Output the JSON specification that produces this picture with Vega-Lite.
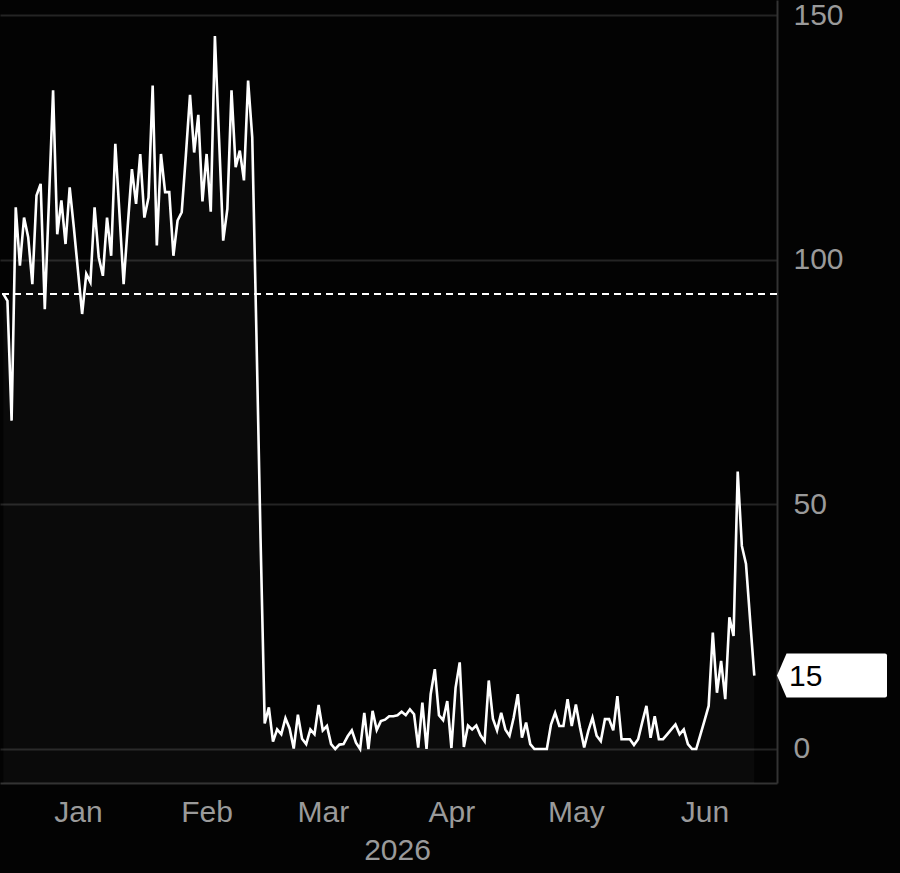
{
  "$schema": "https://vega.github.io/schema/vega-lite/v6.json",
  "autosize": {"type": "none"},
  "padding": {"left": 0, "top": 0, "right": 123, "bottom": 90},
  "width": 777,
  "height": 783,
  "background": "#030303",
  "config": {
    "font": "Liberation Sans",
    "view": {"stroke": null}
  },
  "datasets": {
    "series": [
      {"d":"2025-12-14","v":93.0},{"d":"2025-12-15","v":91.6},{"d":"2025-12-16","v":67.1},{"d":"2025-12-17","v":110.7},{"d":"2025-12-18","v":98.8},{"d":"2025-12-19","v":108.6},{"d":"2025-12-20","v":104.6},{"d":"2025-12-21","v":95.0},{"d":"2025-12-22","v":113.1},{"d":"2025-12-23","v":115.5},{"d":"2025-12-24","v":89.9},{"d":"2025-12-25","v":112.0},{"d":"2025-12-26","v":134.6},{"d":"2025-12-27","v":105.2},{"d":"2025-12-28","v":112.1},{"d":"2025-12-29","v":103.2},{"d":"2025-12-30","v":114.8},{"d":"2025-12-31","v":106.6},
      {"d":"2026-01-01","v":97.7},{"d":"2026-01-02","v":88.9},{"d":"2026-01-03","v":97.1},{"d":"2026-01-04","v":95.4},{"d":"2026-01-05","v":110.7},{"d":"2026-01-06","v":100.5},{"d":"2026-01-07","v":96.7},{"d":"2026-01-08","v":108.6},{"d":"2026-01-09","v":100.8},{"d":"2026-01-10","v":123.7},{"d":"2026-01-11","v":109.4},{"d":"2026-01-12","v":95.0},{"d":"2026-01-13","v":107.0},{"d":"2026-01-14","v":118.5},{"d":"2026-01-15","v":111.4},{"d":"2026-01-16","v":121.6},{"d":"2026-01-17","v":108.6},{"d":"2026-01-18","v":112.7},{"d":"2026-01-19","v":135.6},{"d":"2026-01-20","v":102.9},{"d":"2026-01-21","v":121.6},{"d":"2026-01-22","v":113.8},{"d":"2026-01-23","v":113.8},{"d":"2026-01-24","v":100.8},{"d":"2026-01-25","v":108.0},{"d":"2026-01-26","v":109.7},{"d":"2026-01-27","v":121.3},{"d":"2026-01-28","v":133.7},{"d":"2026-01-29","v":121.9},{"d":"2026-01-30","v":129.6},{"d":"2026-01-31","v":111.9},
      {"d":"2026-02-01","v":121.6},{"d":"2026-02-02","v":109.8},{"d":"2026-02-03","v":145.7},{"d":"2026-02-04","v":124.7},{"d":"2026-02-05","v":103.9},{"d":"2026-02-06","v":110.4},{"d":"2026-02-07","v":134.6},{"d":"2026-02-08","v":118.9},{"d":"2026-02-09","v":122.3},{"d":"2026-02-10","v":116.2},{"d":"2026-02-11","v":136.6},{"d":"2026-02-12","v":125.0},{"d":"2026-02-13","v":85.0},{"d":"2026-02-14","v":43.0},{"d":"2026-02-15","v":5.2},{"d":"2026-02-16","v":8.5},{"d":"2026-02-17","v":1.5},{"d":"2026-02-18","v":4.0},{"d":"2026-02-19","v":3.0},{"d":"2026-02-20","v":6.3},{"d":"2026-02-21","v":4.2},{"d":"2026-02-22","v":0.1},{"d":"2026-02-23","v":7.0},{"d":"2026-02-24","v":2.1},{"d":"2026-02-25","v":1.0},{"d":"2026-02-26","v":4.0},{"d":"2026-02-27","v":3.0},{"d":"2026-02-28","v":9.0},
      {"d":"2026-03-01","v":3.8},{"d":"2026-03-02","v":4.7},{"d":"2026-03-03","v":1.0},{"d":"2026-03-04","v":0},{"d":"2026-03-05","v":0.9},{"d":"2026-03-06","v":1.0},{"d":"2026-03-07","v":2.6},{"d":"2026-03-08","v":3.8},{"d":"2026-03-09","v":1.3},{"d":"2026-03-10","v":0},{"d":"2026-03-11","v":7.4},{"d":"2026-03-12","v":0},{"d":"2026-03-13","v":7.8},{"d":"2026-03-14","v":3.9},{"d":"2026-03-15","v":5.7},{"d":"2026-03-16","v":6.0},{"d":"2026-03-17","v":6.7},{"d":"2026-03-18","v":6.7},{"d":"2026-03-19","v":6.9},{"d":"2026-03-20","v":7.6},{"d":"2026-03-21","v":6.9},{"d":"2026-03-22","v":8.1},{"d":"2026-03-23","v":7.1},{"d":"2026-03-24","v":0.3},{"d":"2026-03-25","v":9.5},{"d":"2026-03-26","v":0},{"d":"2026-03-27","v":11.2},{"d":"2026-03-28","v":16.3},{"d":"2026-03-29","v":6.9},{"d":"2026-03-30","v":5.9},{"d":"2026-03-31","v":9.8},
      {"d":"2026-04-01","v":0.2},{"d":"2026-04-02","v":12.5},{"d":"2026-04-03","v":17.7},{"d":"2026-04-04","v":0.4},{"d":"2026-04-05","v":4.8},{"d":"2026-04-06","v":4.0},{"d":"2026-04-07","v":4.8},{"d":"2026-04-08","v":2.8},{"d":"2026-04-09","v":1.6},{"d":"2026-04-10","v":14.0},{"d":"2026-04-11","v":6.2},{"d":"2026-04-12","v":3.8},{"d":"2026-04-13","v":7.4},{"d":"2026-04-14","v":4.0},{"d":"2026-04-15","v":2.7},{"d":"2026-04-16","v":6.4},{"d":"2026-04-17","v":11.2},{"d":"2026-04-18","v":2.3},{"d":"2026-04-19","v":5.4},{"d":"2026-04-20","v":1.0},{"d":"2026-04-21","v":0},{"d":"2026-04-22","v":0},{"d":"2026-04-23","v":0},{"d":"2026-04-24","v":0},{"d":"2026-04-25","v":5.0},{"d":"2026-04-26","v":7.4},{"d":"2026-04-27","v":4.7},{"d":"2026-04-28","v":4.7},{"d":"2026-04-29","v":10.2},{"d":"2026-04-30","v":4.7},
      {"d":"2026-05-01","v":9.1},{"d":"2026-05-02","v":4.4},{"d":"2026-05-03","v":0.3},{"d":"2026-05-04","v":3.7},{"d":"2026-05-05","v":6.4},{"d":"2026-05-06","v":2.7},{"d":"2026-05-07","v":1.6},{"d":"2026-05-08","v":6.1},{"d":"2026-05-09","v":6.1},{"d":"2026-05-10","v":3.8},{"d":"2026-05-11","v":10.8},{"d":"2026-05-12","v":2.0},{"d":"2026-05-13","v":2.0},{"d":"2026-05-14","v":2.0},{"d":"2026-05-15","v":0.8},{"d":"2026-05-16","v":2.0},{"d":"2026-05-17","v":5.5},{"d":"2026-05-18","v":8.8},{"d":"2026-05-19","v":2.3},{"d":"2026-05-20","v":6.7},{"d":"2026-05-21","v":2.0},{"d":"2026-05-22","v":2.0},{"d":"2026-05-23","v":3.0},{"d":"2026-05-24","v":4.0},{"d":"2026-05-25","v":5.0},{"d":"2026-05-26","v":3.0},{"d":"2026-05-27","v":4.0},{"d":"2026-05-28","v":1.0},{"d":"2026-05-29","v":0},{"d":"2026-05-30","v":0},{"d":"2026-05-31","v":2.9},
      {"d":"2026-06-01","v":5.8},{"d":"2026-06-02","v":8.8},{"d":"2026-06-03","v":23.8},{"d":"2026-06-04","v":11.5},{"d":"2026-06-05","v":18.0},{"d":"2026-06-06","v":10.2},{"d":"2026-06-07","v":26.9},{"d":"2026-06-08","v":23.1},{"d":"2026-06-09","v":56.7},{"d":"2026-06-10","v":41.5},{"d":"2026-06-11","v":37.8},{"d":"2026-06-12","v":26.3},{"d":"2026-06-13","v":15.0}
    ],
    "avg": [{"avg": 93.0}],
    "last": [{"v": 15, "label": "15"}]
  },
  "layer": [
    {
      "data": {"name": "series"},
      "mark": {"type": "area", "color": "#ffffff", "opacity": 0.03},
      "encoding": {
        "x": {"field": "d", "type": "temporal",
          "scale": {"type": "utc", "domain": [{"year": 2025, "month": 12, "date": 13, "hours": 4, "minutes": 55, "utc": true}, {"year": 2026, "month": 6, "date": 18, "hours": 11, "minutes": 17, "utc": true}]},
          "axis": {
            "values": [
              {"year": 2026, "month": 1, "date": 1, "utc": true},
              {"year": 2026, "month": 2, "date": 1, "utc": true},
              {"year": 2026, "month": 3, "date": 1, "utc": true},
              {"year": 2026, "month": 4, "date": 1, "utc": true},
              {"year": 2026, "month": 5, "date": 1, "utc": true},
              {"year": 2026, "month": 6, "date": 1, "utc": true}
            ],
            "labelExpr": "utcFormat(datum.value, '%b')",
            "grid": false, "ticks": false,
            "domain": true, "domainColor": "#333333", "domainWidth": 2,
            "labelFontSize": 30, "labelColor": "#9a9a9a", "labelPadding": 14,
            "title": "2026", "titleFontSize": 30, "titleColor": "#9a9a9a", "titleFontWeight": "normal", "titlePadding": 8, "titleX": 397
          }
        },
        "y": {"field": "v", "type": "quantitative",
          "scale": {"domain": [-6.95, 153.07], "nice": false, "zero": false},
          "axis": {
            "orient": "right", "values": [0, 50, 100, 150],
            "grid": true, "gridColor": "#242424", "gridWidth": 2,
            "ticks": false, "domain": true, "domainColor": "#333333", "domainWidth": 2,
            "labelFontSize": 30, "labelColor": "#9a9a9a", "labelPadding": 16,
            "title": null
          }
        },
        "y2": {"datum": -6.95}
      }
    },
    {
      "data": {"name": "series"},
      "mark": {"type": "line", "color": "#ffffff", "strokeWidth": 2.6},
      "encoding": {
        "x": {"field": "d", "type": "temporal"},
        "y": {"field": "v", "type": "quantitative"}
      }
    },
    {
      "data": {"name": "avg"},
      "mark": {"type": "rule", "color": "#ffffff", "strokeWidth": 2, "strokeDash": [7, 5]},
      "encoding": {
        "y": {"field": "avg", "type": "quantitative"}
      }
    },
    {
      "data": {"name": "last"},
      "mark": {"type": "point", "filled": true, "color": "#ffffff", "opacity": 1, "size": 400,
        "shape": "M0,0 L0.95,-2.2 L10.8,-2.2 Q11,-2.2 11,-2.0 L11,2.0 Q11,2.2 10.8,2.2 L0.95,2.2 Z"},
      "encoding": {
        "x": {"value": "width"},
        "y": {"field": "v", "type": "quantitative"}
      }
    },
    {
      "data": {"name": "last"},
      "mark": {"type": "text", "align": "left", "baseline": "middle", "dx": 12, "dy": 1, "fontSize": 30, "color": "#000000"},
      "encoding": {
        "x": {"value": "width"},
        "y": {"field": "v", "type": "quantitative"},
        "text": {"field": "label"}
      }
    }
  ]
}
